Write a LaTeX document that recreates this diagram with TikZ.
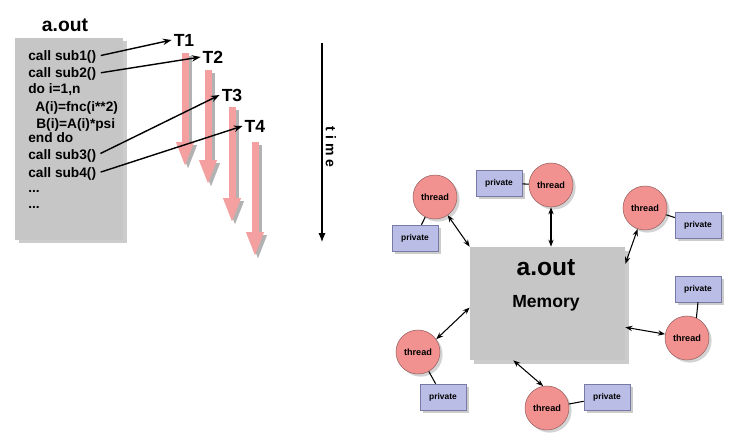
\documentclass[tikz,border=0pt]{standalone}
\usepackage{fontspec}
\setmainfont{Liberation Sans}
\usepackage{tikz}
\usetikzlibrary{arrows.meta,shadows}
\definecolor{boxgray}{RGB}{198,198,198}
\definecolor{barpink}{RGB}{244,160,160}
\definecolor{threadpink}{RGB}{242,146,144}
\definecolor{threadedge}{RGB}{150,95,95}
\definecolor{privblue}{RGB}{186,189,230}
\definecolor{privedge}{RGB}{120,122,165}
\tikzstyle{codebox}=[rectangle,fill=boxgray,minimum width=2.16cm,minimum height=4.04cm,drop shadow={shadow xshift=2pt,shadow yshift=-1.5pt,opacity=0.4}]
\tikzstyle{code}=[anchor=base west,inner sep=0pt,font=\bfseries\fontsize{7.8}{9}\selectfont]
\tikzstyle{tlabel}=[inner sep=1pt,font=\bfseries\fontsize{10}{12}\selectfont]
\tikzstyle{call}=[-{Stealth[length=5pt,width=3.6pt]},line width=0.8pt,shorten <=2.5pt]
\tikzstyle{bar}=[draw=barpink,line width=0.14cm,-{Triangle[width=0.32cm,length=0.5cm]}]
\tikzstyle{barshade}=[draw=gray!60,line width=0.14cm,-{Triangle[width=0.32cm,length=0.5cm]}]
\tikzstyle{memory}=[rectangle,fill=boxgray,minimum width=3.1cm,minimum height=2.26cm,drop shadow={shadow xshift=2pt,shadow yshift=-2pt,opacity=0.4}]
\tikzstyle{thread}=[circle,fill=threadpink,draw=threadedge,line width=0.3pt,minimum size=0.88cm,inner sep=0pt,font=\bfseries\fontsize{5.2}{6}\selectfont,drop shadow={shadow xshift=1.5pt,shadow yshift=-1.5pt,opacity=0.35}]
\tikzstyle{private}=[rectangle,fill=privblue,draw=privedge,line width=0.3pt,minimum width=0.92cm,minimum height=0.52cm,font=\bfseries\fontsize{4.8}{6}\selectfont,drop shadow={shadow xshift=1.5pt,shadow yshift=-1.5pt,opacity=0.4}]
\tikzstyle{link}=[{Stealth[length=4pt,width=3pt]}-{Stealth[length=4pt,width=3pt]},line width=0.6pt]
\begin{document}
\begin{tikzpicture}[x=0.02cm,y=-0.02cm]
\useasboundingbox (0,0) rectangle (751,447);
% program and the four threads it starts
\node[font=\bfseries\fontsize{11}{13}\selectfont] (titleL) at (65,25) {a.out};
\node[codebox] (prog) at (69,139) {};
\node[code] (sub1) at (28,60) {call sub1()};
\node[code] (sub2) at (28,77) {call sub2()};
\node[code] (doi) at (28,93) {do i=1,n};
\node[code] (fnc) at (35,111) {A(i)=fnc(i**2)};
\node[code] (psi) at (36,128) {B(i)=A(i)*psi};
\node[code] (enddo) at (28,142) {end do};
\node[code] (sub3) at (28,159) {call sub3()};
\node[code] (sub4) at (28,177) {call sub4()};
\node[code] (dots1) at (28,192) {...};
\node[code] (dots2) at (28,208) {...};
\draw[barshade] (188,56)--(188,170);
\draw[bar] (185,53)--(185,167);
\draw[barshade] (211,73)--(211,188);
\draw[bar] (208,70)--(208,185);
\draw[barshade] (235,110)--(235,226);
\draw[bar] (232,107)--(232,223);
\draw[barshade] (258,145)--(258,260);
\draw[bar] (255,142)--(255,257);
\node[tlabel] (T1) at (184,40) {T1};
\node[tlabel] (T2) at (213,57) {T2};
\node[tlabel] (T3) at (232,95) {T3};
\node[tlabel] (T4) at (255,126) {T4};
\draw[call] (sub1.east)--(T1.west);
\draw[call] (sub2.east)--(T2.west);
\draw[call] (sub3.east)--(T3.west);
\draw[call] (sub4.east)--(T4.west);
\coordinate (tstart) at (322,43);
\coordinate (tend) at (322,242);
\draw[line width=0.6pt,-{Latex[length=5pt,width=4pt]}] (tstart)--(tend);
\node[rotate=-90,font=\bfseries\fontsize{8}{10}\selectfont\addfontfeatures{LetterSpace=30}] (time) at (331,147) {time};
% shared memory with threads
\node[memory] (mem) at (547.5,303.5) {};
\node[font=\bfseries\fontsize{14}{16}\selectfont] (aout) at (546,268) {a.out};
\node[font=\bfseries\fontsize{10}{12}\selectfont] (memtext) at (546,303) {Memory};
\node[thread] (t1) at (435,197) {thread};
\node[thread] (t2) at (551,185) {thread};
\node[thread] (t3) at (645,208) {thread};
\node[thread] (t4) at (687,338) {thread};
\node[thread] (t5) at (547,408) {thread};
\node[thread] (t6) at (418,352) {thread};
\node[private] (p1) at (415,238) {private};
\node[private] (p2) at (499,183) {private};
\node[private] (p3) at (698,225) {private};
\node[private] (p4) at (698,289) {private};
\node[private] (p5) at (607,397) {private};
\node[private] (p6) at (443,397) {private};
\draw[line width=0.6pt] (t1)--(p1);
\draw[line width=0.6pt] (p2)--(t2);
\draw[line width=0.6pt] (t3)--(p3);
\draw[line width=0.6pt] (p4.south)--(t4.65);
\draw[line width=0.6pt] (t5)--(p5);
\draw[line width=0.6pt] (t6)--(p6);
\draw[link] (t1)--(mem.north west);
\draw[link] (t2)--(t2 |- mem.north);
\draw[link] (t3)--(mem.27);
\draw[link] (mem.-17)--(t4.170);
\draw[link] (mem.239)--(t5.100);
\draw[link] (mem.183)--(t6.35);
\end{tikzpicture}
\end{document}
